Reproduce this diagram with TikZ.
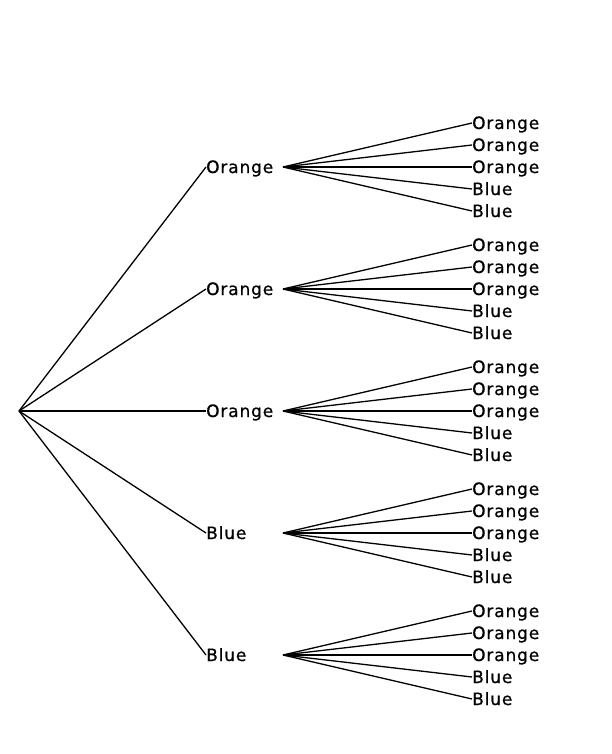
\documentclass[tikz,border=0pt]{standalone}
\usepackage{fontspec}
\setmainfont[LetterSpace=5,FakeBold=0.8]{DejaVu Sans}
\begin{document}
\begin{tikzpicture}[x=1pt,y=-1pt,
  lab/.style={anchor=west,inner sep=0pt,font=\fontsize{17}{18}\selectfont,text height=14pt,text depth=2pt},
  edge/.style={line width=1.3pt,black},
  thick edge/.style={line width=2.6pt,black}]
\useasboundingbox (0,0) rectangle (612,754);
\coordinate (root) at (19,411);
% level 1
\foreach \i/\y/\t in {1/167/Orange,2/289/Orange,3/411/Orange,4/533/Blue,5/655/Blue}{
  \node[lab] (l\i) at (206,\y) {\t};
  \coordinate (f\i) at (283,\y);
  \draw[edge] (root) -- (l\i.west);
  \foreach \j/\d/\s in {1/-44/Orange,2/-22/Orange,3/0/Orange,4/22/Blue,5/44/Blue}{
    \node[lab] (m\i\j) at (472,\y+\d) {\s};
  }
}
% fans
\foreach \i in {1,...,5}{
  \foreach \j in {1,2,4,5}{
    \draw[edge] (f\i) -- (m\i\j.west);
  }
}
\foreach \i in {1,2,3,5}{
  \draw[edge] (f\i) -- (m\i3.west);
}
\draw[thick edge] (f4) -- (m43.west);
\end{tikzpicture}
\end{document}
